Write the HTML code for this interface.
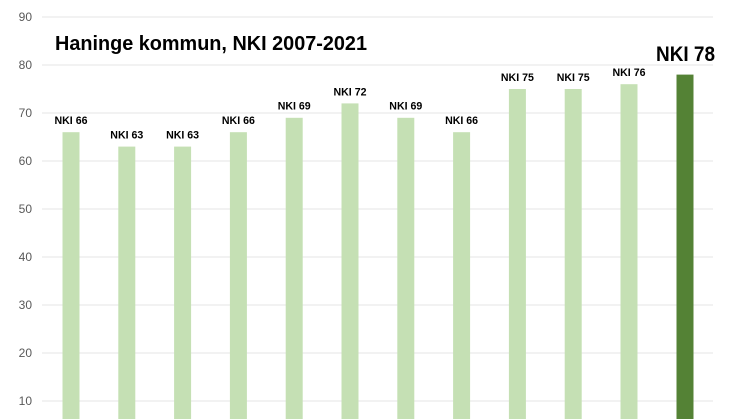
<!DOCTYPE html>
<html><head><meta charset="utf-8"><style>html,body{margin:0;padding:0;background:#fff;width:746px;height:419px;overflow:hidden}svg{display:block}</style></head>
<body>
<svg width="746" height="419" viewBox="0 0 746 419" xmlns="http://www.w3.org/2000/svg" font-family="Liberation Sans, sans-serif" overflow="hidden">
<g stroke="#e6e6e6" stroke-width="1">
<line x1="42" x2="713" y1="17" y2="17"/><line x1="42" x2="713" y1="65" y2="65"/><line x1="42" x2="713" y1="113" y2="113"/><line x1="42" x2="713" y1="161" y2="161"/><line x1="42" x2="713" y1="209" y2="209"/><line x1="42" x2="713" y1="257" y2="257"/><line x1="42" x2="713" y1="305" y2="305"/><line x1="42" x2="713" y1="353" y2="353"/><line x1="42" x2="713" y1="401" y2="401"/>
</g>
<g fill="#595959" font-size="12" text-anchor="end">
<text x="32" y="21">90</text><text x="32" y="69">80</text><text x="32" y="117">70</text><text x="32" y="165">60</text><text x="32" y="213">50</text><text x="32" y="261">40</text><text x="32" y="309">30</text><text x="32" y="357">20</text><text x="32" y="405">10</text>
</g>
<text x="55" y="50" font-size="20" font-weight="bold" textLength="312" lengthAdjust="spacingAndGlyphs">Haninge kommun, NKI 2007-2021</text>
<g fill="#c5e0b4">
<rect x="62.5" y="132.2" width="17" height="286.8"/>
<rect x="118.3" y="146.6" width="17" height="272.4"/>
<rect x="174.1" y="146.6" width="17" height="272.4"/>
<rect x="229.9" y="132.2" width="17" height="286.8"/>
<rect x="285.7" y="117.8" width="17" height="301.2"/>
<rect x="341.5" y="103.4" width="17" height="315.6"/>
<rect x="397.3" y="117.8" width="17" height="301.2"/>
<rect x="453.1" y="132.2" width="17" height="286.8"/>
<rect x="508.9" y="89" width="17" height="330"/>
<rect x="564.7" y="89" width="17" height="330"/>
<rect x="620.5" y="84.2" width="17" height="334.8"/>
</g>
<rect x="676.5" y="74.6" width="17" height="344.4" fill="#548235"/>
<g font-size="11" font-weight="bold" text-anchor="middle" fill="#000">
<text x="71" y="124" textLength="33" lengthAdjust="spacingAndGlyphs">NKI 66</text>
<text x="126.8" y="138.5" textLength="33" lengthAdjust="spacingAndGlyphs">NKI 63</text>
<text x="182.6" y="138.5" textLength="33" lengthAdjust="spacingAndGlyphs">NKI 63</text>
<text x="238.4" y="124" textLength="33" lengthAdjust="spacingAndGlyphs">NKI 66</text>
<text x="294.2" y="109.5" textLength="33" lengthAdjust="spacingAndGlyphs">NKI 69</text>
<text x="350" y="95.5" textLength="33" lengthAdjust="spacingAndGlyphs">NKI 72</text>
<text x="405.8" y="109.5" textLength="33" lengthAdjust="spacingAndGlyphs">NKI 69</text>
<text x="461.6" y="124" textLength="33" lengthAdjust="spacingAndGlyphs">NKI 66</text>
<text x="517.4" y="81" textLength="33" lengthAdjust="spacingAndGlyphs">NKI 75</text>
<text x="573.2" y="81" textLength="33" lengthAdjust="spacingAndGlyphs">NKI 75</text>
<text x="629" y="76" textLength="33" lengthAdjust="spacingAndGlyphs">NKI 76</text>
</g>
<text x="685.5" y="61" font-size="21" font-weight="bold" text-anchor="middle" textLength="59" lengthAdjust="spacingAndGlyphs">NKI 78</text>
</svg>
</body></html>
